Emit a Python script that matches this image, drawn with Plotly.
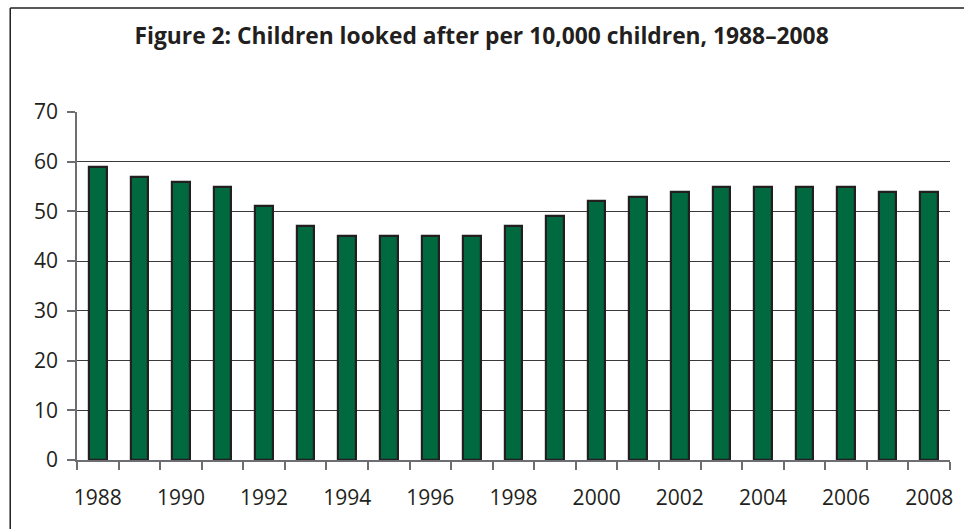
import plotly.graph_objects as go

years = list(range(1988, 2009))
values = [59, 57, 56, 55, 51, 47, 45, 45, 45, 45, 47, 49, 52, 53, 54, 55, 55, 55, 55, 54, 54]
label_years = list(range(1988, 2009, 2))
y_ticks = [0, 10, 20, 30, 40, 50, 60, 70]
grid_vals = [10, 20, 30, 40, 50, 60]
title = "Figure 2: Children looked after per 10,000 children, 1988–2008"

fig = go.Figure()
fig.add_trace(go.Bar(
    x=years, y=values, width=0.42,
    marker=dict(color="#006940", line=dict(color="#231f20", width=2.2)),
    hoverinfo="x+y",
))

font_fam = "Open Sans, Noto Sans, sans-serif"
tick_font = dict(family=font_fam, size=21, color="#231f20")
fig.update_layout(
    width=964, height=529,
    margin=dict(l=77, r=11, t=112, b=69),
    paper_bgcolor="white", plot_bgcolor="white",
    showlegend=False,
    title=dict(text="<b>" + title + "</b>", x=(483 - 77) / 876, xref="paper", xanchor="center",
               y=1 - 36 / 529, yanchor="middle",
               font=dict(family=font_fam, size=22.8, color="#231f20")),
    font=dict(family=font_fam, size=20, color="#231f20"),
    bargap=0,
)
fig.update_xaxes(
    range=[1987.5, 2008.5], tickmode="array", tickvals=label_years,
    ticktext=[str(y) for y in label_years], ticks="", ticklen=0, ticklabelstandoff=18,
    showgrid=False, zeroline=False, showline=True, linecolor="#6d6e71", linewidth=1.5,
    tickfont=tick_font,
    minor=dict(tickvals=[y - 0.5 for y in years] + [2008.5], ticks="outside", ticklen=8,
               tickcolor="#6d6e71", tickwidth=1.5, showgrid=False),
)
fig.update_yaxes(
    range=[0, 70], tickmode="array", tickvals=y_ticks, ticks="outside", ticklen=8,
    tickcolor="#6d6e71", tickwidth=1.5, showgrid=False, zeroline=False,
    showline=True, linecolor="#6d6e71", linewidth=1.5, ticklabelstandoff=5,
    tickfont=tick_font,
    minor=dict(tickvals=grid_vals, ticks="", showgrid=True, gridcolor="#3a3a3a", gridwidth=1),
)

# outer frame (left and top edges visible)
fig.add_shape(type="line", xref="paper", yref="paper",
              x0=(10 - 77) / 876, x1=(10 - 77) / 876, y0=(460 - 8) / 348, y1=(460 - 540) / 348,
              line=dict(color="#231f20", width=1.5))
fig.add_shape(type="line", xref="paper", yref="paper",
              x0=(10 - 77) / 876, x1=(970 - 77) / 876, y0=(460 - 8) / 348, y1=(460 - 8) / 348,
              line=dict(color="#231f20", width=1.5))

fig.write_html("out.html")
